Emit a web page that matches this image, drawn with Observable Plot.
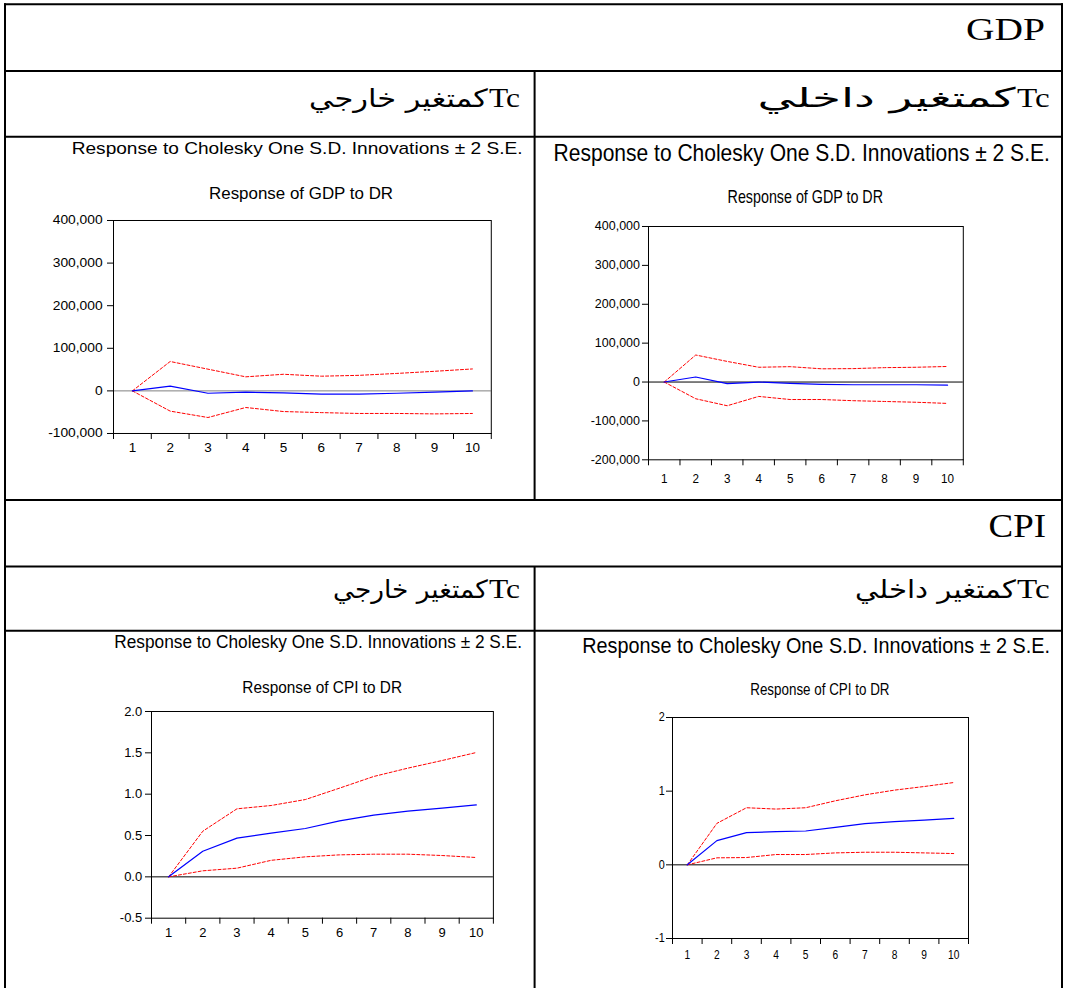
<!DOCTYPE html>
<html>
<head>
<meta charset="utf-8">
<script src="https://cdn.jsdelivr.net/npm/d3@7"></script>
<script src="https://cdn.jsdelivr.net/npm/@observablehq/plot@0.6"></script>
<style>
html, body { margin: 0; padding: 0; background: #fff; }
#page { position: relative; width: 1065px; height: 988px; overflow: hidden; background: #fff; }
#page svg.chart { position: absolute; }
#overlay { position: absolute; left: 0; top: 0; }
</style>
</head>
<body>
<div id="page"></div>
<script>
// ---------------- DATA ----------------
const periods = [1, 2, 3, 4, 5, 6, 7, 8, 9, 10];

// GDP response to DR — Tc as external variable (left)
const gdpExtResponse = [0, 11000, -5500, -3000, -4700, -7800, -7800, -5500, -3000, 0];
const gdpExtUpper    = [0, 69000, 51000, 33000, 39000, 34500, 36500, 41000, 46000, 51500];
const gdpExtLower    = [0, -47500, -62500, -39000, -48500, -51000, -53000, -53000, -54000, -53000];

// GDP response to DR — Tc as internal variable (right)
const gdpIntResponse = [0, 13000, -4300, 0, -3400, -6000, -7000, -7000, -7000, -8000];
const gdpIntUpper    = [0, 69500, 53000, 38000, 39500, 34000, 34500, 37000, 38000, 40000];
const gdpIntLower    = [0, -43000, -61000, -37000, -45000, -45000, -48000, -50000, -52000, -55000];

// CPI response to DR — Tc as external variable (left)
const cpiExtResponse = [0, 0.31, 0.468, 0.528, 0.585, 0.677, 0.746, 0.794, 0.831, 0.871];
const cpiExtUpper    = [0, 0.552, 0.823, 0.863, 0.935, 1.073, 1.214, 1.315, 1.407, 1.504];
const cpiExtLower    = [0, 0.073, 0.105, 0.2, 0.242, 0.266, 0.274, 0.274, 0.258, 0.234];

// CPI response to DR — Tc as internal variable (right)
const cpiIntResponse = [0, 0.329, 0.437, 0.45, 0.459, 0.509, 0.559, 0.586, 0.608, 0.631];
const cpiIntUpper    = [0, 0.563, 0.775, 0.757, 0.775, 0.869, 0.95, 1.014, 1.063, 1.117];
const cpiIntLower    = [0, 0.095, 0.099, 0.14, 0.14, 0.162, 0.171, 0.171, 0.162, 0.153];

// tick values
const gdpExtTicks = [-100000, 0, 100000, 200000, 300000, 400000];
const gdpIntTicks = [-200000, -100000, 0, 100000, 200000, 300000, 400000];
const cpiExtTicks = [-0.5, 0, 0.5, 1, 1.5, 2];
const cpiIntTicks = [-1, 0, 1, 2];

// texts
const sectionGDP = "GDP";
const sectionCPI = "CPI";
const tcLabel = "Tc";
const extLabel = "كمتغير خارجي";
const intLabel = "كمتغير داخلي";
const mainTitle = "Response to Cholesky One S.D. Innovations ± 2 S.E.";
const gdpSubtitle = "Response of GDP to DR";
const cpiSubtitle = "Response of CPI to DR";

// ---------------- LAYOUT ----------------
const page = d3.select("#page");
const overlay = page.append("svg").attr("id", "overlay").attr("width", 1065).attr("height", 988);

// table borders
const hLines = [4.2, 71, 136.7, 500, 566.5, 630.8];
hLines.forEach(y => overlay.append("line").attr("x1", 4).attr("x2", 1063).attr("y1", y).attr("y2", y)
  .attr("stroke", "#000").attr("stroke-width", 2));
[[5, 3.2, 988], [1062, 3.2, 988], [534.6, 71, 500], [534.6, 566.5, 988]].forEach(([x, y1, y2]) =>
  overlay.append("line").attr("x1", x).attr("x2", x).attr("y1", y1).attr("y2", y2)
    .attr("stroke", "#000").attr("stroke-width", 2));

const SANS = "'Liberation Sans', Arial, sans-serif";
const SERIF = "'Liberation Serif', 'Times New Roman', serif";
const ARABIC = "'DejaVu Sans', sans-serif";

function placeText(str, s) {
  const size = s.size ?? (s.base - s.capTop) / s.capRatio;
  const t = overlay.append("text")
    .attr("font-family", s.family).attr("font-size", size).attr("fill", "#000").text(str);
  const bb = t.node().getBBox();
  const k = (s.x1 - s.x0) / bb.width;
  t.attr("transform", `translate(${s.x0 - bb.x * k},${s.base}) scale(${k},1)`);
}
const sans = (x0, x1, capTop, base) => ({x0, x1, capTop, base, family: SANS, capRatio: 0.716});
const serif = (x0, x1, capTop, base) => ({x0, x1, capTop, base, family: SERIF, capRatio: 0.662});
const arab = (x0, x1, base, size) => ({x0, x1, base, family: ARABIC, size});

// section headers
placeText(sectionGDP, serif(966, 1045, 18.5, 40));
placeText(sectionCPI, serif(988.5, 1046, 515, 536.7));
// Tc headings
placeText(tcLabel, serif(489, 520, 88.3, 106.7));
placeText(extLabel, arab(309, 488, 106.7, 25));
placeText(tcLabel, serif(1017, 1049.6, 88.3, 106.7));
placeText(intLabel, arab(757.5, 1016, 106.7, 27));
placeText(tcLabel, serif(489, 520, 580, 598));
placeText(extLabel, arab(333, 488, 598, 25));
placeText(tcLabel, serif(1017, 1049.6, 580, 598));
placeText(intLabel, arab(855, 1016, 598, 25));
// chart titles
placeText(mainTitle, sans(71.7, 522, 141.7, 154));
placeText(mainTitle, sans(553.6, 1050, 144, 160.7));
placeText(mainTitle, sans(114.3, 522, 635, 648.3));
placeText(mainTitle, sans(582.3, 1050, 637, 653.3));
placeText(gdpSubtitle, sans(209, 393, 187.7, 199));
placeText(gdpSubtitle, sans(727.6, 883, 190, 203.3));
placeText(cpiSubtitle, sans(242.3, 402, 680.7, 692.7));
placeText(cpiSubtitle, sans(750.2, 889.7, 683.3, 695));

// ---------------- CHARTS ----------------
const fmtThousands = d => d.toLocaleString("en-US");
const fmtOneDec = d => d.toFixed(1);
const fmtInt = d => String(d);
const bounds = periods.map(p => p - 0.5).concat([periods[periods.length - 1] + 0.5]);

function irfChart(resp, upper, lower, yTicks, yFmt, L) {
  const rows = periods.map((p, i) => ({period: p, response: resp[i], upper: upper[i], lower: lower[i]}));
  const [fx0, fy0, fx1, fy1] = L.frame;
  const ml = 80, mr = 10, mt = 10, mb = 40;
  const svg = Plot.plot({
    width: ml + (fx1 - fx0) + mr,
    height: mt + (fy1 - fy0) + mb,
    marginLeft: ml, marginRight: mr, marginTop: mt, marginBottom: mb,
    x: {domain: [bounds[0], bounds[bounds.length - 1]]},
    y: {domain: [yTicks[0], yTicks[yTicks.length - 1]]},
    style: {fontFamily: SANS, fontSize: "12px", background: "none", overflow: "visible", color: "#000"},
    marks: [
      Plot.ruleY([0], {stroke: L.zero, strokeWidth: 1}),
      Plot.line(rows, {x: "period", y: "upper", stroke: "#ff0000", strokeWidth: 1, strokeDasharray: "3,2"}),
      Plot.line(rows, {x: "period", y: "lower", stroke: "#ff0000", strokeWidth: 1, strokeDasharray: "3,2"}),
      Plot.line(rows, {x: "period", y: "response", stroke: "#0000ff", strokeWidth: 1.2}),
      Plot.frame({stroke: "#000", strokeWidth: 1}),
      Plot.axisY({ticks: yTicks, tickFormat: yFmt, tickSize: 6, tickPadding: L.yPad, label: null, fontSize: L.yFont}),
      Plot.axisX({ticks: periods, tickFormat: fmtInt, tickSize: 0, tickPadding: L.xPad, label: null, fontSize: L.xFont}),
      Plot.axisX({ticks: bounds, tickFormat: () => "", tickSize: 6, label: null})
    ]
  });
  svg.classList.add("chart");
  svg.style.left = (fx0 - ml) + "px";
  svg.style.top = (fy0 - mt) + "px";
  page.node().appendChild(svg);
  // horizontal adjustment of tick label glyph widths (about each label's anchor point)
  const adjust = (label, k) => {
    if (k === 1) return;
    d3.select(svg).selectAll(`g[aria-label="${label}"] text`).each(function() {
      const tr = this.getAttribute("transform") || "";
      this.setAttribute("transform", `${tr} scale(${k},1)`);
    });
  };
  adjust("y-axis tick label", L.yScaleX);
  adjust("x-axis tick label", L.xScaleX);
  return svg;
}

irfChart(gdpExtResponse, gdpExtUpper, gdpExtLower, gdpExtTicks, fmtThousands,
  {frame: [112.6, 220.3, 490.4, 433.3], yPad: 4.9, xPad: 8.7, yFont: 12, xFont: 13.5, yScaleX: 1.15, xScaleX: 1, zero: "#808080"});
irfChart(gdpIntResponse, gdpIntUpper, gdpIntLower, gdpIntTicks, fmtThousands,
  {frame: [648.2, 226, 963, 459.3], yPad: 2.5, xPad: 13.9, yFont: 12.5, xFont: 13, yScaleX: 1, xScaleX: 0.9, zero: "#000"});
irfChart(cpiExtResponse, cpiExtUpper, cpiExtLower, cpiExtTicks, fmtOneDec,
  {frame: [150.9, 711.3, 492.8, 918], yPad: 3.3, xPad: 10, yFont: 13, xFont: 13, yScaleX: 1, xScaleX: 1, zero: "#000"});
irfChart(cpiIntResponse, cpiIntUpper, cpiIntLower, cpiIntTicks, fmtInt,
  {frame: [671.8, 716.7, 967.8, 937.7], yPad: 1.8, xPad: 12, yFont: 12, xFont: 12, yScaleX: 0.9, xScaleX: 0.85, zero: "#000"});
</script>
</body>
</html>
